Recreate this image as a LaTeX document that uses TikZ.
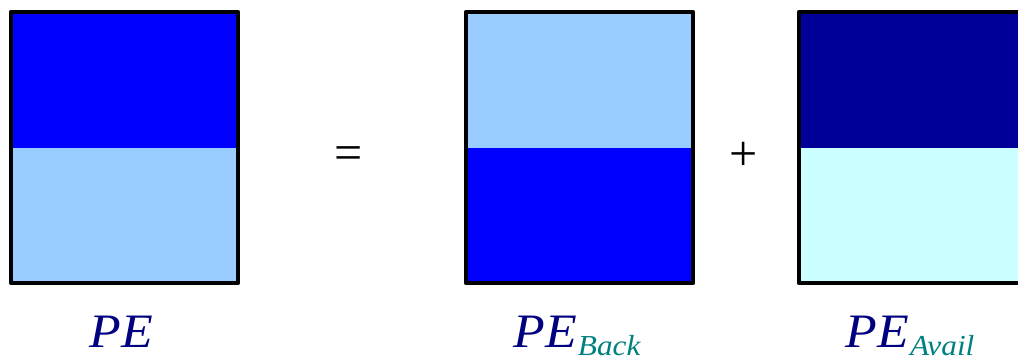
\documentclass[tikz,border=0pt]{standalone}
\usepackage{fontspec}
\setmainfont{Liberation Serif}
\usetikzlibrary{positioning}
\definecolor{peBlue}{RGB}{0,0,255}
\definecolor{peLight}{RGB}{153,204,255}
\definecolor{peDark}{RGB}{0,0,153}
\definecolor{peCyan}{RGB}{204,255,255}
\definecolor{peNavy}{RGB}{0,0,128}
\definecolor{peTeal}{RGB}{0,128,128}
\newcommand{\pelabel}[1]{\scalebox{1.08}[1]{\fontsize{48}{48}\selectfont\itshape PE#1}}
\newcommand{\pesub}[1]{\raisebox{-8pt}{\fontsize{29}{29}\selectfont\color{peTeal}\kern1pt#1}}

\begin{document}
\begin{tikzpicture}[x=1pt,y=-1pt,
    halfbox/.style 2 args={draw,line width=4.5pt,line join=round,inner sep=0pt,
      minimum width=227pt,minimum height=271pt,
      path picture={
        \fill[#1] (path picture bounding box.north west) rectangle (path picture bounding box.east);
        \fill[#2] (path picture bounding box.west) rectangle (path picture bounding box.south east);}},
    lbl/.style={anchor=base,inner sep=0pt,text=peNavy},
    op/.style={inner sep=0pt,font=\fontsize{50}{50}\selectfont}
  ]
  \useasboundingbox (0,0) rectangle (1018,361);
  \clip (0,0) rectangle (1018,361);

  % the three blocks
  \node[halfbox={peBlue}{peLight}] (pe) at (124.5,147.5) {};
  \node[halfbox={peLight}{peBlue}] (back) at (579.5,147.5) {};
  \node[halfbox={peDark}{peCyan}] (avail) at (912.5,147.5) {};

  % operators
  \node[op] (eq) at (349,158) {=};
  \node[op] (plus) at (743.5,156) {+};

  % labels
  \node[lbl] (lpe) at (121,347) {\pelabel{}};
  \node[lbl] (lback) at (577,347) {\pelabel{\pesub{Back}}};
  \node[lbl] (lavail) at (910,347) {\pelabel{\pesub{Avail}}};
\end{tikzpicture}
\end{document}
